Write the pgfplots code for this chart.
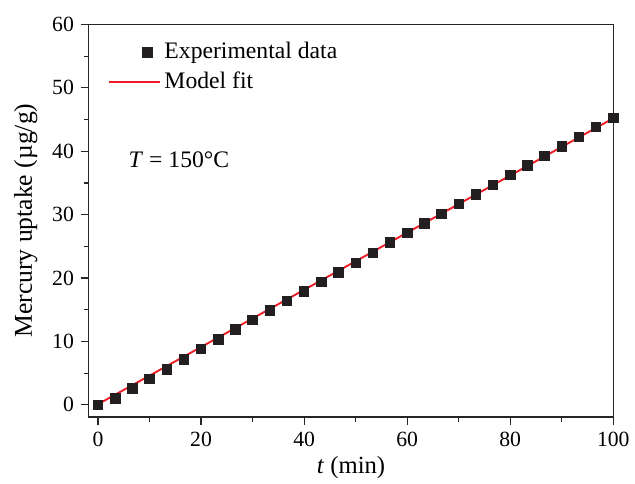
\documentclass[border=0pt]{standalone}
\usepackage{fontspec}
\setmainfont{Liberation Serif}
\usepackage{pgfplots}
\pgfplotsset{compat=1.18}
\definecolor{markc}{HTML}{231F20}
\definecolor{fitred}{HTML}{ED1C24}
\pgfplotsset{marklegend/.style={legend image code/.code={\draw[##1] plot coordinates {(0.68cm,0cm)};}}}
\begin{document}
\begin{tikzpicture}
\begin{axis}[
  scale only axis,
  width=266pt, height=199pt,
  xmin=-1.8, xmax=100, ymin=-1.9, ymax=60,
  xtick={0,20,...,100}, ytick={0,10,...,60},
  minor x tick num=1, minor y tick num=1,
  tick align=outside, xtick pos=bottom, ytick pos=left,
  major tick length=4pt, minor tick length=2.5pt,
  axis line style={line width=0.7pt, color=black!85},
  every tick/.style={line width=0.6pt, color=black!85},
  /pgf/number format/assume math mode=true,
  tick label style={font=\fontsize{11}{13}\selectfont},
  xlabel={\textit{t} (min)},
  ylabel={Mercury uptake (µg/g)},
  xlabel style={font=\fontsize{12.5}{14}\selectfont, at={(axis description cs:0.5,-0.128)}, anchor=center},
  ylabel style={font=\fontsize{13}{15}\selectfont, at={(axis description cs:-0.12,0.5)}, anchor=center},
  legend style={draw=none, fill=none, at={(0.025,0.975)}, anchor=north west,
    font=\fontsize{12}{14}\selectfont, row sep=1pt, cells={anchor=west}},
  legend cell align=left,
  legend image code/.code={\draw[#1] (0cm,0cm) -- (0.9cm,0cm);},
]
\addplot[only marks, mark=square*, mark size=2.4pt, color=markc, marklegend]
  coordinates {
  (0,0) (3.33,1.0) (6.67,2.6) (10,4.1) (13.33,5.6) (16.67,7.2)
  (20,8.8) (23.33,10.3) (26.67,11.9) (30,13.4) (33.33,14.9) (36.67,16.4)
  (40,17.9) (43.33,19.4) (46.67,20.9) (50,22.4) (53.33,24.0) (56.67,25.6)
  (60,27.1) (63.33,28.6) (66.67,30.1) (70,31.7) (73.33,33.2) (76.67,34.7)
  (80,36.3) (83.33,37.8) (86.67,39.3) (90,40.8) (93.33,42.3) (96.67,43.8)
  (100,45.3)
  };
\addlegendentry{Experimental data}
\addplot[color=fitred, line width=0.95pt] coordinates {(0,0.1) (100,45.2)};
\addlegendentry{Model fit}
\node[anchor=west, font=\fontsize{12}{14}\selectfont] at (axis cs:4.6,38.6) {\textit{T} = 150°C};
\end{axis}
\pgfresetboundingbox
\useasboundingbox ([xshift=-45pt,yshift=-34pt]current axis.south west) rectangle ++(322pt,245.4pt);
\end{tikzpicture}
\end{document}
